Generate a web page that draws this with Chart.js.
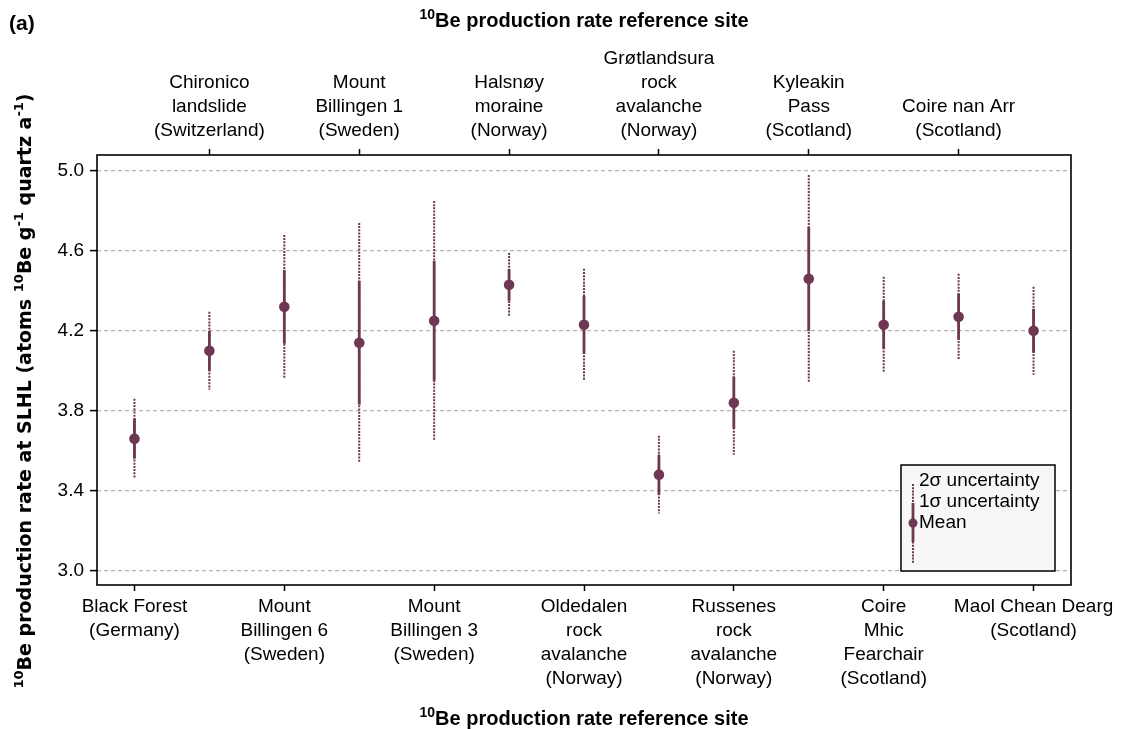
<!DOCTYPE html>
<html>
<head>
<meta charset="utf-8">
<script src="https://cdn.jsdelivr.net/npm/chart.js@4.4.0/dist/chart.umd.min.js"></script>
<style>
  html, body { margin: 0; padding: 0; background: #fff; }
  #wrap { width: 1121px; height: 729px; }
</style>
</head>
<body>
<div id="wrap"><canvas id="prodChart" width="1121" height="729"></canvas></div>
<script>
// Sites from left to right (even index = bottom axis, odd index = top axis)
const siteLabels = [
    ['Black Forest', '(Germany)'],
    ['Chironico', 'landslide', '(Switzerland)'],
    ['Mount', 'Billingen 6', '(Sweden)'],
    ['Mount', 'Billingen 1', '(Sweden)'],
    ['Mount', 'Billingen 3', '(Sweden)'],
    ['Halsnøy', 'moraine', '(Norway)'],
    ['Oldedalen', 'rock', 'avalanche', '(Norway)'],
    ['Grøtlandsura', 'rock', 'avalanche', '(Norway)'],
    ['Russenes', 'rock', 'avalanche', '(Norway)'],
    ['Kyleakin', 'Pass', '(Scotland)'],
    ['Coire', 'Mhic', 'Fearchair', '(Scotland)'],
    ['Coire nan Arr', '(Scotland)'],
    ['Maol Chean Dearg', '(Scotland)']
];
const bottomSites = [0, 2, 4, 6, 8, 10, 12];
const topSites = [1, 3, 5, 7, 9, 11];

// 10Be production rate (atoms g-1 a-1) and half-widths of the uncertainty bars
const meanRate = [3.66, 4.10, 4.32, 4.14, 4.25, 4.43, 4.23, 3.48, 3.84, 4.46, 4.23, 4.27, 4.20];
const sigma1 = [0.10, 0.10, 0.185, 0.31, 0.30, 0.08, 0.145, 0.10, 0.13, 0.26, 0.12, 0.115, 0.11];
const sigma2 = [0.20, 0.195, 0.36, 0.60, 0.60, 0.16, 0.28, 0.195, 0.26, 0.52, 0.24, 0.215, 0.22];

const yTicks = [3.0, 3.4, 3.8, 4.2, 4.6, 5.0];
const legendLabels = ['2σ uncertainty', '1σ uncertainty', 'Mean'];

// titles: [text, superscript?]
const xTitleParts = [['10', true], ['Be production rate reference site', false]];
const yTitleParts = [['10', true], ['Be production rate at SLHL (atoms ', false], ['10', true],
    ['Be g', false], ['-1', true], [' quartz a', false], ['-1', true], [')', false]];

const plum = '#6e3752';
const sans = '"Liberation Sans", Arial, sans-serif';

// text with raised small parts, centred on (x, y)
function drawRich(ctx, parts, x, y, size, family, angle) {
    const supSize = Math.round(size * 0.7);
    ctx.save();
    ctx.translate(x, y);
    ctx.rotate(angle);
    ctx.fillStyle = '#000';
    ctx.textBaseline = 'alphabetic';
    ctx.textAlign = 'left';
    let total = 0;
    parts.forEach(p => {
        ctx.font = 'bold ' + (p[1] ? supSize : size) + 'px ' + family;
        total += ctx.measureText(p[0]).width;
    });
    let cx = -total / 2;
    const base = size * 0.36;
    parts.forEach(p => {
        ctx.font = 'bold ' + (p[1] ? supSize : size) + 'px ' + family;
        ctx.fillText(p[0], cx, p[1] ? base - size * 0.42 : base);
        cx += ctx.measureText(p[0]).width;
    });
    ctx.restore();
}

function drawBar(ctx, px, y1, y2, dotted) {
    ctx.setLineDash(dotted ? [2, 1.2] : []);
    ctx.lineWidth = dotted ? 2 : 2.8;
    ctx.beginPath();
    ctx.moveTo(px, y1);
    ctx.lineTo(px, y2);
    ctx.stroke();
}

const errorBars = {
    id: 'errorBars',
    beforeDatasetsDraw(chart) {
        const { ctx, scales: { x, y } } = chart;
        ctx.save();
        ctx.strokeStyle = plum;
        meanRate.forEach((m, i) => {
            const px = x.getPixelForValue(i);
            drawBar(ctx, px, y.getPixelForValue(m + sigma2[i]), y.getPixelForValue(m - sigma2[i]), true);
            drawBar(ctx, px, y.getPixelForValue(m + sigma1[i]), y.getPixelForValue(m - sigma1[i]), false);
        });
        ctx.restore();
    }
};

const legendBox = {
    id: 'legendBox',
    afterDatasetsDraw(chart) {
        const { ctx, chartArea: a } = chart;
        const w = 154, h = 106;
        const left = a.right - 16 - w, top = a.bottom - 14 - h;
        ctx.save();
        ctx.fillStyle = '#f7f7f7';
        ctx.fillRect(left, top, w, h);
        ctx.strokeStyle = '#000';
        ctx.lineWidth = 1.5;
        ctx.strokeRect(left, top, w, h);
        // sample error bar
        const hx = left + 12;
        ctx.strokeStyle = plum;
        drawBar(ctx, hx, top + 19, top + 98, true);
        drawBar(ctx, hx, top + 38, top + 77, false);
        ctx.fillStyle = plum;
        ctx.beginPath();
        ctx.arc(hx, top + 58, 4.5, 0, Math.PI * 2);
        ctx.fill();
        ctx.fillStyle = '#000';
        ctx.font = '19px ' + sans;
        ctx.textBaseline = 'middle';
        legendLabels.forEach((t, i) => ctx.fillText(t, left + 18, top + 16 + i * 21));
        ctx.restore();
    }
};

const frameAndTitles = {
    id: 'frameAndTitles',
    afterDraw(chart) {
        const { ctx, chartArea: a } = chart;
        ctx.save();
        ctx.strokeStyle = '#000';
        ctx.lineWidth = 1.6;
        ctx.strokeRect(a.left, a.top, a.right - a.left, a.bottom - a.top);
        ctx.fillStyle = '#000';
        ctx.font = 'bold 21px ' + sans;
        ctx.textBaseline = 'middle';
        ctx.fillText('(a)', 9, 24);
        ctx.restore();
        const cx = (a.left + a.right) / 2;
        drawRich(ctx, xTitleParts, cx, 20, 20, sans, 0);
        drawRich(ctx, xTitleParts, cx, 718, 20, sans, 0);
        drawRich(ctx, yTitleParts, 24, 391, 19, '"DejaVu Sans", sans-serif', -Math.PI / 2);
    }
};

function siteAxis(position, sites, height, pad) {
    return {
        type: 'linear',
        position: position,
        min: -0.5,
        max: 12.5,
        afterBuildTicks: s => { s.ticks = sites.map(v => ({ value: v })); },
        afterFit: s => { s.height = height; },
        grid: { drawOnChartArea: false, tickLength: 6, tickColor: '#000', tickWidth: 1.5 },
        border: { display: false },
        ticks: {
            autoSkip: false,
            maxRotation: 0,
            minRotation: 0,
            padding: pad,
            color: '#000',
            font: { family: sans, size: 19, lineHeight: 1.26 },
            callback: v => siteLabels[v]
        }
    };
}

new Chart(document.getElementById('prodChart'), {
    type: 'scatter',
    data: {
        datasets: [{
            data: meanRate.map((v, i) => ({ x: i, y: v })),
            backgroundColor: plum,
            borderWidth: 0,
            pointRadius: 5.3,
            pointHoverRadius: 5.3
        }]
    },
    options: {
        responsive: false,
        animation: false,
        devicePixelRatio: 1,
        layout: { padding: { left: 0, right: 50, top: 0, bottom: 0 } },
        plugins: {
            legend: { display: false },
            tooltip: { enabled: false }
        },
        scales: {
            x: siteAxis('bottom', bottomSites, 144, 4),
            x2: siteAxis('top', topSites, 155, 6),
            y: {
                min: 2.9275,
                max: 5.08,
                afterBuildTicks: s => { s.ticks = yTicks.map(v => ({ value: v })); },
                afterFit: s => { s.width = 97; },
                grid: { color: '#b4b4b4', lineWidth: 1.2, tickLength: 7, tickColor: '#000', tickWidth: 1.5 },
                border: { display: false, dash: [4, 3] },
                ticks: {
                    padding: 6,
                    color: '#000',
                    font: { family: sans, size: 19 },
                    callback: v => v.toFixed(1)
                }
            }
        }
    },
    plugins: [errorBars, legendBox, frameAndTitles]
});
</script>
</body>
</html>
